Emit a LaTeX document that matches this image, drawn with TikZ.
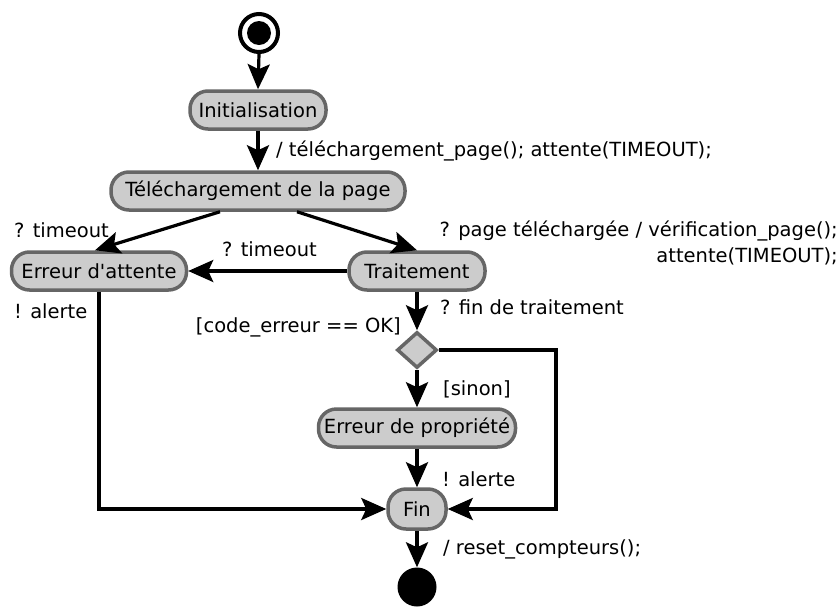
\documentclass[tikz,border=0pt]{standalone}
\usepackage{fontspec}
\setmainfont{DejaVu Sans}
\usetikzlibrary{arrows.meta,shapes.geometric,calc}
\definecolor{bordercol}{HTML}{666666}
\definecolor{fillcol}{HTML}{CCCCCC}
\begin{document}
\begin{tikzpicture}[x=1pt,y=-1pt,
  every node/.style={font=\fontsize{19.5}{26}\selectfont},
  state/.style={draw=bordercol, fill=fillcol, line width=3.5pt, rounded corners=18pt,
    minimum height=38pt, inner sep=0pt},
  choice/.style={diamond, draw=bordercol, fill=fillcol, line width=3.5pt,
    minimum width=40pt, minimum height=36pt, inner sep=0pt},
  flow/.style={line width=3.2pt, -{Stealth[length=25pt,width=22pt,inset=5pt]}},
  lbl/.style={anchor=base west, inner sep=0pt},
  lblr/.style={anchor=base east, inner sep=0pt, align=right}]
\useasboundingbox (0,0) rectangle (839,606);
% nodes
\node[circle, draw, line width=4pt, minimum size=38pt, inner sep=0pt] (start) at (259,33) {};
\node[circle, fill, minimum size=24pt, inner sep=0pt] (startdot) at (start.center) {};
\node[state, minimum width=136pt] (init) at (258,110) {Initialisation};
\node[state, minimum width=294pt] (tel) at (258,191) {Téléchargement de la page};
\node[state, minimum width=175pt] (ea) at (99,271) {Erreur d\textquotesingle attente};
\node[state, minimum width=136pt] (tr) at (417,271) {Traitement};
\node[choice] (dia) at (417,350) {};
\node[state, minimum width=197pt] (ep) at (417,428) {Erreur de propriété};
\node[state, minimum width=58pt, minimum height=40pt] (fin) at (417,509) {Fin};
\node[circle, fill, minimum size=39pt, inner sep=0pt] (end) at (417,587) {};
\coordinate (rc) at (556,430);
% connectors
\draw[flow] (start.south) -- (init.north);
\draw[flow] (init.south) -- (tel.north);
\draw[flow] ([xshift=-38pt]tel.south) -- ([xshift=-4pt]ea.north);
\draw[flow] ([xshift=39pt]tel.south) -- (tr.north);
\draw[flow] (tr.west) -- (ea.east);
\draw[flow] (tr.south) -- (dia.north);
\draw[flow] (dia.south) -- (ep.north);
\draw[flow] (ep.south) -- (fin.north);
\draw[flow] (ea.south) |- (fin.west);
\draw[flow] (dia.east) -| (rc) |- (fin.east);
\draw[flow] (fin.south) -- (end.north);
% labels
\node[lbl] (l1) at (276,156) {/ téléchargement\_page(); attente(TIMEOUT);};
\node[lbl] (l2) at (14,237) {? timeout};
\node[lbl] (l3) at (222,256) {? timeout};
\node[lblr] (l4) at (838,262) {? page téléchargée / vérification\_page();\\attente(TIMEOUT);};
\node[lbl] (l5) at (14,318) {! alerte};
\node[lbl] (l6) at (440,314) {? fin de traitement};
\node[lbl, anchor=base east] (l7) at (401,332) {[code\_erreur == OK]};
\node[lbl] (l8) at (443,395) {[sinon]};
\node[lbl] (l9) at (442,486) {! alerte};
\node[lbl] (l10) at (443,554) {/ reset\_compteurs();};
\end{tikzpicture}
\end{document}
